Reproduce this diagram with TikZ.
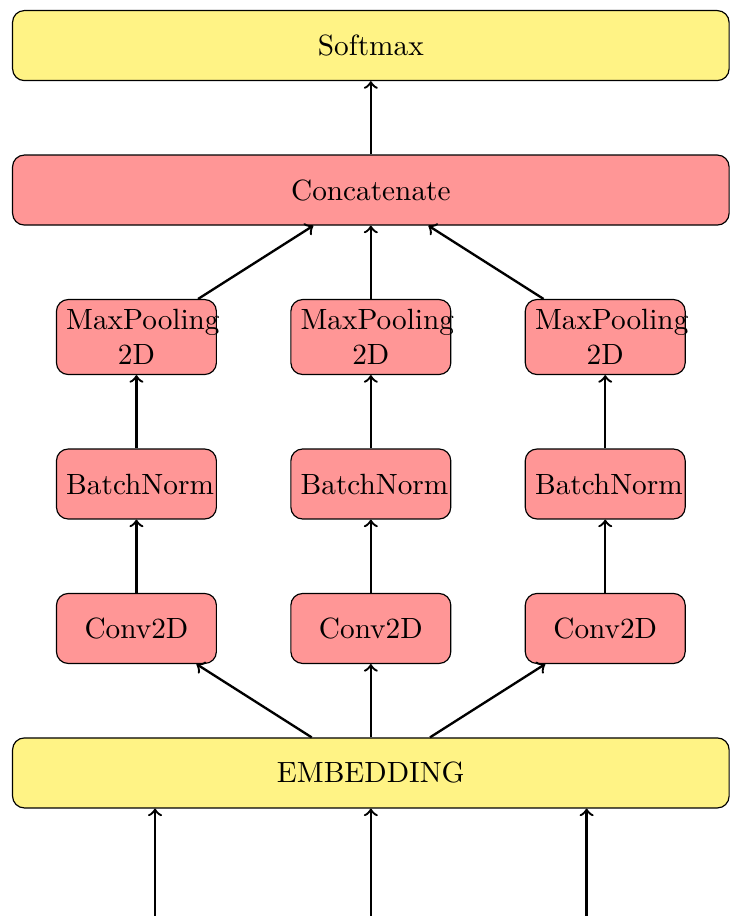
\documentclass[tikz,border=0pt]{standalone}
\usetikzlibrary{arrows,shapes,positioning}
\usepackage{xcolor}
\definecolor{layeryellow}{RGB}{255,243,133}
\definecolor{layerred}{RGB}{255,150,150}
\tikzset{
	bar/.style={
		rectangle,
		rounded corners=4pt,
		draw,
		minimum width=86mm,
		minimum height=8.4mm,
	},
	inbar/.style={
		bar,
		fill=layeryellow,
	},
	redbar/.style={
		bar,
		fill=layerred,
	},
	layer/.style={
		rectangle,
		rounded corners=4pt,
		draw,
		fill=layerred,
		text width=16.85mm,
		align=center,
		minimum height=8.4mm,
	},
	arc/.style={
		->,
		thick,
	},
}
\begin{document}
\begin{tikzpicture}[node distance=8.8mm]
	\node [inbar] (soft) {Softmax};

	\node [
	  redbar,
	  below=of soft
	] (concat) {Concatenate};

	% middle column
	\node [
	  layer,
	  below=of concat
	] (mp2) {MaxPooling 2D};
	\node [
	  layer,
	  below=of mp2
	] (bn2) {BatchNorm};
	\node [
	  layer,
	  below=of bn2
	] (conv2) {Conv2D};

	% left column
	\node [layer, left=of mp2] (mp1) {MaxPooling 2D};
	\node [layer, left=of bn2] (bn1) {BatchNorm};
	\node [layer, left=of conv2] (conv1) {Conv2D};

	% right column
	\node [layer, right=of mp2] (mp3) {MaxPooling 2D};
	\node [layer, right=of bn2] (bn3) {BatchNorm};
	\node [layer, right=of conv2] (conv3) {Conv2D};

	\node [
	  inbar,
	  below=of conv2
	] (emb) {EMBEDDING};

	\coordinate [below=12.9mm of emb.south, xshift=-25.9mm] (in1);
	\coordinate [below=12.9mm of emb.south] (in2);
	\coordinate [below=12.9mm of emb.south, xshift=25.9mm] (in3);

	\coordinate (corner) at ([xshift=-1.44mm,yshift=1.2mm]soft.north west);
	\coordinate (corner2) at ([xshift=86.8mm]corner);
	\useasboundingbox (corner) rectangle (in2 -| corner2);

	\draw[arc] (in1) -- (in1 |- emb.south);
	\draw[arc] (in2) -- (emb.south);
	\draw[arc] (in3) -- (in3 |- emb.south);

	\draw[arc] ([xshift=-7.1mm]emb.north) -- ([xshift=7.2mm]conv1.south);
	\draw[arc] (emb.north) -- (conv2.south);
	\draw[arc] ([xshift=7.1mm]emb.north) -- ([xshift=-7.2mm]conv3.south);

	\draw[arc] (conv1) -- (bn1);
	\draw[arc] (conv2) -- (bn2);
	\draw[arc] (conv3) -- (bn3);
	\draw[arc] (bn1) -- (mp1);
	\draw[arc] (bn2) -- (mp2);
	\draw[arc] (bn3) -- (mp3);

	\draw[arc] ([xshift=7.4mm]mp1.north) -- ([xshift=-6.9mm]concat.south);
	\draw[arc] (mp2) -- (concat);
	\draw[arc] ([xshift=-7.4mm]mp3.north) -- ([xshift=6.9mm]concat.south);

	\draw[arc] (concat) -- (soft);
\end{tikzpicture}
\end{document}
